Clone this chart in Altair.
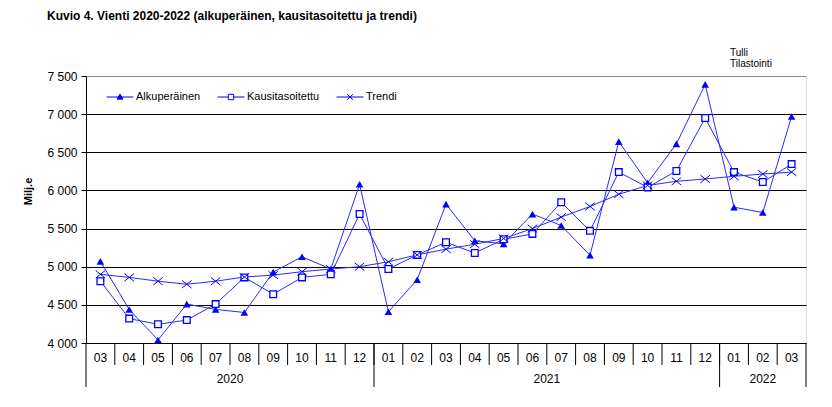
import altair as alt
import pandas as pd

# ---- data ----
months = ["03", "04", "05", "06", "07", "08", "09", "10", "11", "12",
          "01", "02", "03", "04", "05", "06", "07", "08", "09", "10", "11", "12",
          "01", "02", "03"]
month_year = ["2020"] * 10 + ["2021"] * 12 + ["2022"] * 3
alkuperainen = [5070, 4440, 4040, 4510, 4440, 4400, 4930, 5130, 4970, 6080,
                4410, 4830, 5820, 5340, 5300, 5690, 5540, 5150, 6640, 6100, 6610, 7390,
                5780, 5710, 6970]
kausitasoitettu = [4810, 4320, 4245, 4300, 4510, 4860, 4640, 4860, 4900, 5690,
                   4970, 5155, 5320, 5180, 5360, 5430, 5845, 5470, 6240, 6040, 6255, 6950,
                   6240, 6110, 6345]
trendi = [4900, 4860, 4810, 4770, 4810, 4865, 4890, 4935, 4970, 5000,
          5065, 5155, 5230, 5295, 5370, 5500, 5650, 5790, 5950, 6065, 6120, 6150,
          6185, 6215, 6240]
series_names = ["Alkuperäinen", "Kausitasoitettu", "Trendi"]
y_ticks = [4000, 4500, 5000, 5500, 6000, 6500, 7000, 7500]
title_text = "Kuvio  4. Vienti 2020-2022 (alkuperäinen, kausitasoitettu ja trendi)"
y_title = "Milj.e"
source_text = ["Tulli", "Tilastointi"]

# ---- tables ----
n = len(months)
idx = list(range(n))
rows = []
for name, vals in zip(series_names, [alkuperainen, kausitasoitettu, trendi]):
    for i, v in zip(idx, vals):
        rows.append({"i": i, "series": name, "value": v})
df = pd.DataFrame(rows)

month_df = pd.DataFrame({"i": idx, "month": months, "year": month_year})
sep_df = pd.DataFrame({"b": [i + 0.5 for i in idx[:-1]]})
years = list(dict.fromkeys(month_year))
year_rows, ybound = [], []
for yr in years:
    ii = [i for i, y in zip(idx, month_year) if y == yr]
    year_rows.append({"year": yr, "c": (ii[0] + ii[-1]) / 2})
    ybound += [ii[0] - 0.5, ii[-1] + 0.5]
year_df = pd.DataFrame(year_rows)
ybound_df = pd.DataFrame({"b": sorted(set(ybound))})

W, H = 720, 267
BLUE = "#0000FF"
LINE = "#2a2aff"
FONT = "Liberation Sans"

xs = alt.Scale(domain=[-0.5, n - 0.5], nice=False, zero=False)
X = alt.X("i:Q", scale=xs, axis=None)
Y = alt.Y("value:Q",
          scale=alt.Scale(domain=[4000, 7500], nice=False, zero=False),
          axis=alt.Axis(values=y_ticks, title=y_title,
                        labelExpr="replace(format(datum.value, ','), ',', ' ')",
                        grid=True,
                        gridColor={"condition": {"test": "datum.value >= 7500", "value": "#888888"},
                                   "value": "black"},
                        gridWidth=1, domainColor="black", tickColor="black",
                        tickSize=5, labelPadding=4, labelFont=FONT, labelFontSize=12,
                        labelColor="black", titleFont=FONT, titleFontSize=11,
                        titleFontWeight="bold", titleColor="black",
                        titleX=-58, titleY=115, titleAngle=-90,
                        titleAlign="center", titleBaseline="middle"))

base = alt.Chart(df)
lines = base.mark_line(color=LINE, strokeWidth=1).encode(x=X, y=Y, detail="series:N")
tri = base.transform_filter(alt.datum.series == series_names[0]).mark_point(
    shape="triangle-up", filled=True, color=BLUE, size=58, opacity=1).encode(x=X, y=Y)
sq = base.transform_filter(alt.datum.series == series_names[1]).mark_point(
    shape="square", filled=True, fill="white", stroke=BLUE, strokeWidth=1.3,
    size=45, opacity=1).encode(x=X, y=Y)
crs = base.transform_filter(alt.datum.series == series_names[2]).mark_point(
    shape="M-1,-0.8L1,0.8M-1,0.8L1,-0.8", filled=False, stroke=BLUE,
    strokeWidth=1, size=90, opacity=1).encode(x=X, y=Y)

leg_shapes = ["M-1,0H1M0,-0.22L0.22,0.16H-0.22Z",
              "M-1,0H-0.2M0.2,0H1M-0.2,-0.2H0.2V0.2H-0.2Z",
              "M-1,0H1M-0.22,-0.2L0.22,0.2M-0.22,0.2L0.22,-0.2"]
leg = alt.Legend(title=None, orient="none", legendX=20, legendY=7,
                 direction="horizontal", symbolSize=729, symbolStrokeWidth=1,
                 labelFont=FONT, labelFontSize=11, labelColor="black",
                 labelOffset=2, columnPadding=14, padding=0)
legend_layer = base.transform_filter("datum.value < 0").mark_point(
    stroke=BLUE, strokeWidth=1, opacity=1).encode(
    shape=alt.Shape("series:N", scale=alt.Scale(domain=series_names, range=leg_shapes), legend=leg),
    fill=alt.Fill("series:N", scale=alt.Scale(domain=series_names, range=[BLUE, "white", BLUE]), legend=leg),
)

msep = alt.Chart(sep_df).mark_rule(color="black", strokeWidth=1).encode(
    x=alt.X("b:Q", scale=xs, axis=None), y=alt.value(H), y2=alt.value(H + 22))
ysep = alt.Chart(ybound_df).mark_rule(color="black", strokeWidth=1).encode(
    x=alt.X("b:Q", scale=xs, axis=None), y=alt.value(H), y2=alt.value(H + 44))
mlab = alt.Chart(month_df).mark_text(font=FONT, fontSize=12, color="black",
                                     baseline="middle").encode(
    x=alt.X("i:Q", scale=xs, axis=None), y=alt.value(H + 15), text="month:N")
ylab = alt.Chart(year_df).mark_text(font=FONT, fontSize=12, color="black",
                                    baseline="middle").encode(
    x=alt.X("c:Q", scale=xs, axis=None), y=alt.value(H + 36), text="year:N")
src = alt.Chart(alt.Data(values=[{}])).mark_text(
    text=source_text, font=FONT, fontSize=10, color="black", align="left",
    baseline="top", lineHeight=11).encode(x=alt.value(644), y=alt.value(-28))

chart = alt.layer(lines, tri, sq, crs, legend_layer, msep, ysep, mlab, ylab, src).properties(
    width=W, height=H,
    autosize=alt.AutoSizeParams(type="none"),
    padding={"left": 78, "top": 68, "right": 10, "bottom": 50},
    title=alt.TitleParams(title_text, anchor="start", frame="group", dx=-39,
                          offset=16, baseline="alphabetic", font=FONT,
                          fontSize=12, fontWeight="bold", color="black"),
).configure_view(stroke="#888888", strokeWidth=1).configure(background="white")

chart.save("out.html", embed_options={"renderer": "svg", "actions": False})
